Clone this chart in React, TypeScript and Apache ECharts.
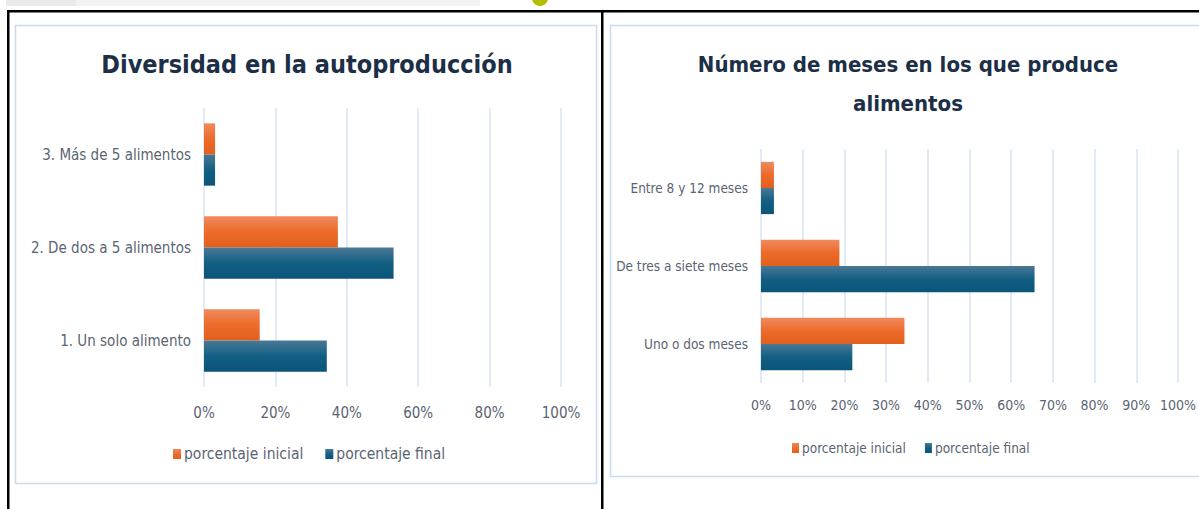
import React, { useEffect, useRef } from "react";
import * as echarts from "echarts";

// ---- data ----
const title1 = "Diversidad en la autoproducción";
const title2Lines = ["Número de meses en los que produce", "alimentos"];
const legendNames = ["porcentaje inicial", "porcentaje final"];

const cats1 = ["1. Un solo alimento", "2. De dos a 5 alimentos", "3. Más de 5 alimentos"];
const inicial1 = [15.6, 37.5, 3.1];
const final1 = [34.4, 53.1, 3.1];

const cats2 = ["Uno o dos meses", "De tres a siete meses", "Entre 8 y 12 meses"];
const inicial2 = [34.4, 18.8, 3.1];
const final2 = [21.9, 65.6, 3.1];

const axisMax = 100;
const interval1 = 20;
const interval2 = 10;

// ---- styles ----
const FONT = '"DejaVu Sans Condensed", "Roboto", sans-serif';
const LABEL = "#5a6472";
const TITLE = "#1c2f47";
const GRIDC = "#d6e4f5";
const FRAME = "#c8dbf0";

const orangeGrad = () =>
  new echarts.graphic.LinearGradient(0, 0, 0, 1, [
    { offset: 0, color: "#f08a5e" },
    { offset: 0.5, color: "#ec6b2a" },
    { offset: 1, color: "#e2601d" },
  ]);
const blueGrad = () =>
  new echarts.graphic.LinearGradient(0, 0, 0, 1, [
    { offset: 0, color: "#4a7894" },
    { offset: 0.5, color: "#125f84" },
    { offset: 1, color: "#0c5479" },
  ]);

export default function App() {
  const ref = useRef<HTMLDivElement>(null);
  useEffect(() => {
    if (!ref.current) return;
    const chart = echarts.init(ref.current, undefined, { renderer: "svg" });

    const xAxisBase = (gridIndex: number, interval: number, fontSize: number, margin: number) => ({
      gridIndex,
      type: "value",
      min: 0,
      max: axisMax,
      interval,
      axisLine: { show: false },
      axisTick: { show: false },
      axisLabel: { formatter: "{value}%", color: LABEL, fontSize, fontFamily: FONT, margin },
      splitLine: { show: true, lineStyle: { color: GRIDC, width: 1.5 } },
    });
    const yAxisBase = (gridIndex: number, data: string[], fontSize: number) => ({
      gridIndex,
      type: "category",
      data,
      axisLine: { show: false },
      axisTick: { show: false },
      splitLine: { show: false },
      axisLabel: { color: LABEL, fontSize, fontFamily: FONT, margin: 13 },
    });
    const barSeries = (name: string, data: number[], idx: number, grad: any) => ({
      name,
      type: "bar",
      xAxisIndex: idx,
      yAxisIndex: idx,
      data,
      barGap: "0%",
      barCategoryGap: "33%",
      itemStyle: { color: grad },
    });

    const titleStyle = (text: string, fontSize: number) => ({
      text,
      fill: TITLE,
      fontSize,
      fontWeight: "bold",
      fontFamily: FONT,
      textAlign: "center",
      textVerticalAlign: "middle",
      align: "center",
      verticalAlign: "middle",
    });

    chart.setOption({
      animation: false,
      backgroundColor: "#ffffff",
      grid: [
        { left: 204, top: 108, width: 357, height: 279 },
        { left: 761, top: 149, width: 418, height: 234 },
      ],
      xAxis: [xAxisBase(0, interval1, 15, 18), xAxisBase(1, interval2, 14, 15)],
      yAxis: [yAxisBase(0, cats1, 15), yAxisBase(1, cats2, 13.5)],
      legend: [
        {
          data: legendNames,
          left: 168,
          top: 441,
          icon: "rect",
          itemWidth: 8,
          itemHeight: 10,
          itemGap: 22,
          textStyle: { color: LABEL, fontSize: 15.5, fontFamily: FONT, padding: [0, 0, 0, -2] },
          selectedMode: false,
        },
        {
          data: legendNames,
          left: 787,
          top: 436,
          icon: "rect",
          itemWidth: 7,
          itemHeight: 10,
          itemGap: 19,
          textStyle: { color: LABEL, fontSize: 13.5, fontFamily: FONT, padding: [0, 0, 0, -2] },
          selectedMode: false,
        },
      ],
      series: [
        barSeries(legendNames[0], inicial1, 0, orangeGrad()),
        barSeries(legendNames[1], final1, 0, blueGrad()),
        barSeries(legendNames[0], inicial2, 1, orangeGrad()),
        barSeries(legendNames[1], final2, 1, blueGrad()),
      ],
      graphic: [
        // top strip
        { type: "rect", shape: { x: 6, y: 0, width: 474, height: 6 }, style: { fill: "#f3f3f3" }, z: -10 },
        { type: "rect", shape: { x: 6, y: 0, width: 70, height: 6 }, style: { fill: "#e9e9e9" }, z: -10 },
        { type: "circle", shape: { cx: 540, cy: -2, r: 8 }, style: { fill: "#b4bc06" }, z: -10 },
        // table borders
        { type: "rect", shape: { x: 7, y: 10, width: 1200, height: 2.5 }, style: { fill: "#000" }, z: -10 },
        { type: "rect", shape: { x: 7, y: 10, width: 2.5, height: 510 }, style: { fill: "#000" }, z: -10 },
        { type: "rect", shape: { x: 601, y: 10, width: 2.5, height: 510 }, style: { fill: "#000" }, z: -10 },
        // chart frames
        {
          type: "rect",
          shape: { x: 15.5, y: 25.5, width: 581, height: 458 },
          style: { fill: "none", stroke: FRAME, lineWidth: 1.5 },
          z: -9,
        },
        {
          type: "rect",
          shape: { x: 610.5, y: 25.5, width: 620, height: 451 },
          style: { fill: "none", stroke: FRAME, lineWidth: 1.5 },
          z: -9,
        },
        // titles
        { type: "text", x: 307, y: 64, style: titleStyle(title1, 25) },
        { type: "text", x: 908, y: 64, style: titleStyle(title2Lines[0], 22) },
        { type: "text", x: 908, y: 103, style: titleStyle(title2Lines[1], 22) },
      ],
    });
    return () => chart.dispose();
  }, []);
  return (
    <div
      ref={ref}
      style={{ position: "absolute", left: 0, top: 0, width: 1199, height: 509 }}
    />
  );
}
